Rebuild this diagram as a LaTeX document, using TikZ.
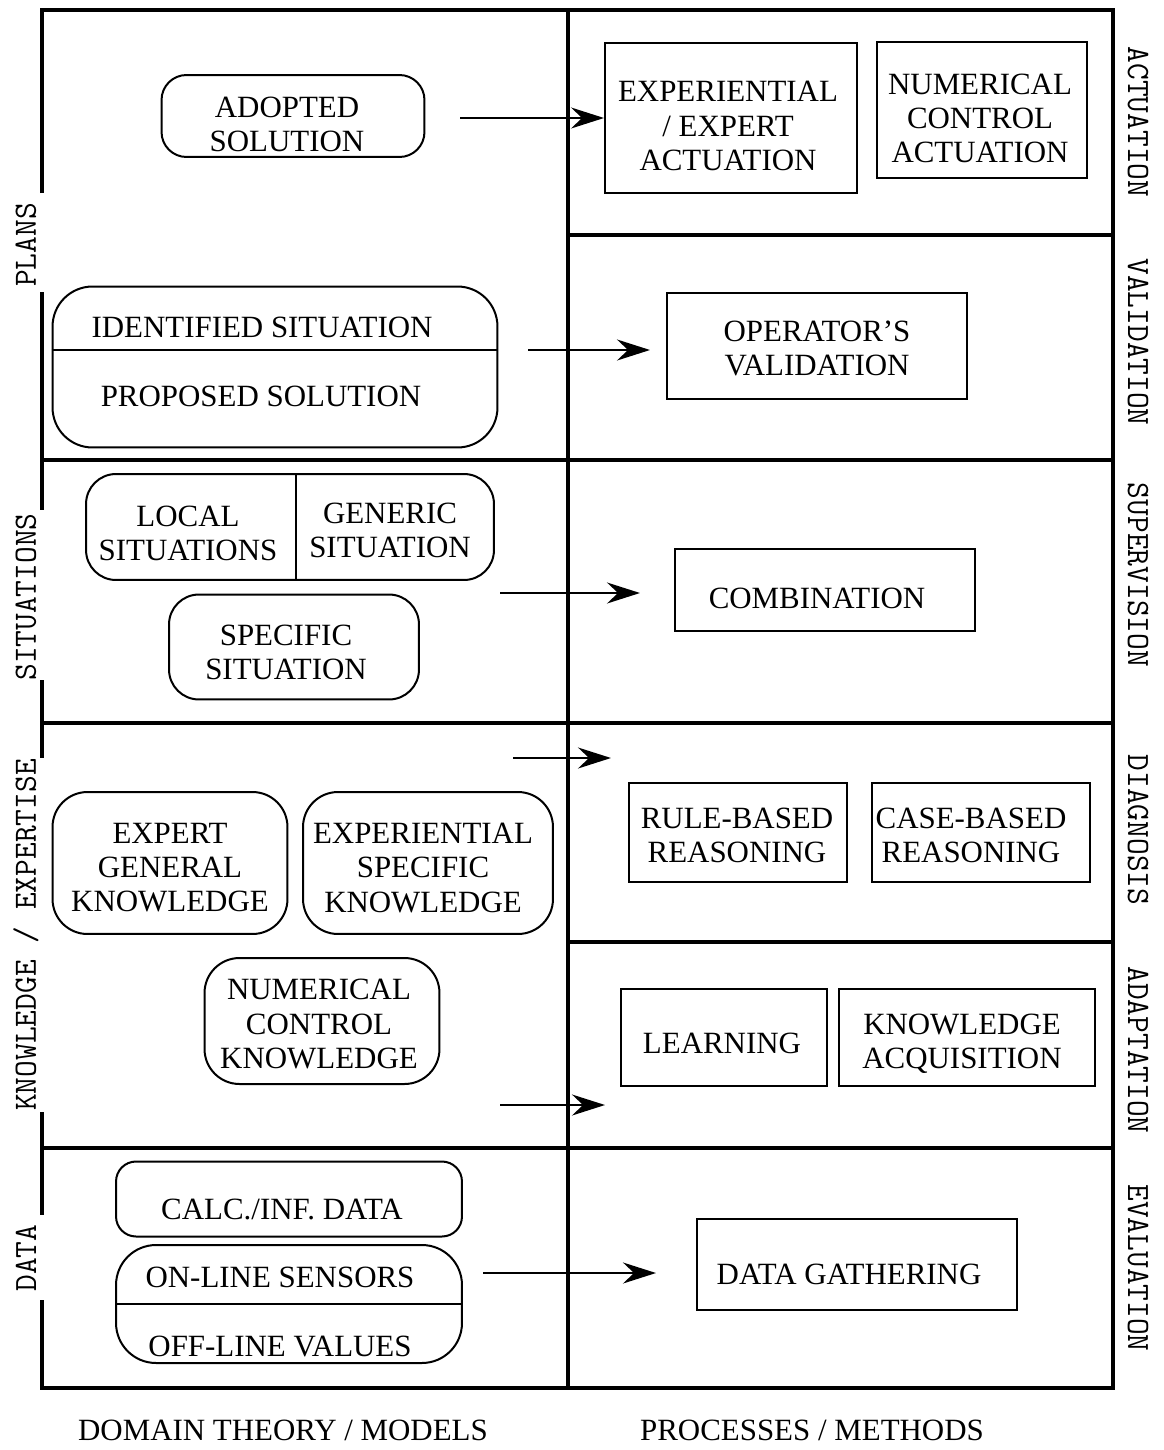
\documentclass[tikz,border=0pt]{standalone}
\usepackage{fontspec}
\setmainfont{Liberation Serif}
\usetikzlibrary{arrows.meta,positioning}

\begin{document}
\begin{tikzpicture}[
    x=0.02cm, y=-0.02cm,
    txt/.style={font=\fontsize{17.6}{19.4}\selectfont, align=center, inner sep=0pt},
    rbox/.style={draw, rounded corners=0.5cm, line width=0.04cm, inner sep=0pt},
    sbox/.style={draw, line width=0.04cm, inner sep=0pt},
    frame/.style={line width=0.09cm},
    divline/.style={line width=0.04cm},
    side/.style={font=\ttfamily\fontsize{18.5}{18.5}\selectfont, inner sep=0pt},
    arr/.style={-{Stealth[length=0.66cm, width=0.42cm, inset=0.22cm]}, line width=0.04cm},
  ]
    \useasboundingbox (0,0) rectangle (1163,1450);

    % Grid
    \draw[frame] (42,193) -- (42,10) -- (1113,10) -- (1113,1388) -- (42,1388) -- (42,1300);
    \draw[frame] (42,292) -- (42,510);
    \draw[frame] (42,680) -- (42,758);
    \draw[frame] (42,1112) -- (42,1215);
    \draw[frame] (568,10) -- (568,1388);
    \draw[frame] (568,235) -- (1113,235);
    \draw[frame] (42,460) -- (1113,460);
    \draw[frame] (42,723) -- (1113,723);
    \draw[frame] (568,942) -- (1113,942);
    \draw[frame] (42,1148) -- (1113,1148);

    % Side labels
    \node[side, rotate=90] (plans) at (26,245) {PLANS};
    \node[side, rotate=90] (situ) at (26,597) {SITUATIONS};
    \node[side, rotate=90] (know) at (26,935) {KNOWLEDGE / EXPERTISE};
    \node[side, rotate=90] (data) at (26,1258) {DATA};
    \node[side, rotate=-90] (actu) at (1138,122) {ACTUATION};
    \node[side, rotate=-90] (vali) at (1138,342) {VALIDATION};
    \node[side, rotate=-90] (supe) at (1138,575) {SUPERVISION};
    \node[side, rotate=-90] (diag) at (1138,830) {DIAGNOSIS};
    \node[side, rotate=-90] (adap) at (1138,1050) {ADAPTATION};
    \node[side, rotate=-90] (eval) at (1138,1268) {EVALUATION};
    \node[txt] (domain) at (283,1430) {DOMAIN THEORY / MODELS};
    \node[txt] (proc) at (812,1430) {PROCESSES / METHODS};

    % Domain theory / models
    \node[rbox, minimum width=5.26cm, minimum height=1.64cm] (adopted) at (293,116) {};
    \node[txt] (adoptedtxt) at (287,124) {ADOPTED\\SOLUTION};

    \node[rbox, rounded corners=0.8cm, minimum width=8.9cm, minimum height=3.22cm] (idsit) at (275,367) {};
    \coordinate (idsplit) at (275,350);
    \draw[divline] (idsit.west |- idsplit) -- (idsit.east |- idsplit);
    \node[txt] (idtxt) at (262,327) {IDENTIFIED SITUATION};
    \node[txt] (proptxt) at (261,396) {PROPOSED SOLUTION};

    \node[rbox, rounded corners=0.6cm, minimum width=8.16cm, minimum height=2.12cm] (sitbox) at (290,527) {};
    \coordinate (sitsplit) at (296,527);
    \draw[divline] (sitbox.north -| sitsplit) -- (sitbox.south -| sitsplit);
    \node[txt] (loctxt) at (188,533) {LOCAL\\SITUATIONS};
    \node[txt] (gentxt) at (390,530) {GENERIC\\SITUATION};

    \node[rbox, rounded corners=0.6cm, minimum width=5cm, minimum height=2.1cm] (specsit) at (294,647) {};
    \node[txt] (spectxt) at (286,652) {SPECIFIC\\SITUATION};

    \node[rbox, rounded corners=0.7cm, minimum width=4.7cm, minimum height=2.84cm] (expgen) at (170,863) {};
    \node[txt] (expgentxt) at (170,868) {EXPERT\\GENERAL\\KNOWLEDGE};
    \node[rbox, rounded corners=0.7cm, minimum width=5cm, minimum height=2.84cm] (expspec) at (428,863) {};
    \node[txt] (expspectxt) at (423,868) {EXPERIENTIAL\\SPECIFIC\\KNOWLEDGE};
    \node[rbox, rounded corners=0.7cm, minimum width=4.7cm, minimum height=2.52cm] (numknow) at (322,1021) {};
    \node[txt] (numknowtxt) at (319,1024) {NUMERICAL\\CONTROL\\KNOWLEDGE};

    \node[rbox, rounded corners=0.4cm, minimum width=6.92cm, minimum height=1.5cm] (calcdata) at (289,1199) {};
    \node[txt] (calctxt) at (282,1209) {CALC./INF. DATA};
    \node[rbox, rounded corners=0.8cm, minimum width=6.92cm, minimum height=2.36cm] (linebox) at (289,1304) {};
    \draw[divline] (linebox.west) -- (linebox.east);
    \node[txt] (ontxt) at (280,1277) {ON-LINE SENSORS};
    \node[txt] (offtxt) at (280,1346) {OFF-LINE VALUES};

    % Processes / methods
    \node[sbox, minimum width=5.04cm, minimum height=3cm] (expact) at (731,118) {};
    \node[txt] (expacttxt) at (728,126) {EXPERIENTIAL\\/ EXPERT\\ACTUATION};
    \node[sbox, minimum width=4.22cm, minimum height=2.72cm] (ncact) at (982,110) {};
    \node[txt] (ncacttxt) at (980,118) {NUMERICAL\\CONTROL\\ACTUATION};
    \node[sbox, minimum width=6.02cm, minimum height=2.12cm] (opval) at (817,346) {};
    \node[txt] (opvaltxt) at (817,348) {OPERATOR'S\\VALIDATION};
    \node[sbox, minimum width=6.02cm, minimum height=1.64cm] (comb) at (825,590) {};
    \node[txt] (combtxt) at (817,598) {COMBINATION};
    \node[sbox, minimum width=4.38cm, minimum height=1.98cm] (rbr) at (738,832) {};
    \node[txt] (rbrtxt) at (737,835) {RULE-BASED\\REASONING};
    \node[sbox, minimum width=4.36cm, minimum height=1.98cm] (cbr) at (981,832) {};
    \node[txt] (cbrtxt) at (971,835) {CASE-BASED\\REASONING};
    \node[sbox, minimum width=4.12cm, minimum height=1.94cm] (learn) at (724,1037) {};
    \node[txt] (learntxt) at (722,1043) {LEARNING};
    \node[sbox, minimum width=5.14cm, minimum height=1.94cm] (kacq) at (967,1037) {};
    \node[txt] (kacqtxt) at (962,1044) {KNOWLEDGE\\ACQUISITION};
    \node[sbox, minimum width=6.4cm, minimum height=1.82cm] (datag) at (857,1264) {};
    \node[txt] (datagtxt) at (849,1274) {DATA GATHERING};

    % Arrows
    \coordinate (a1s) at (460,118);
    \draw[arr] (a1s) -- (expact);
    \coordinate (a2s) at (528,350);
    \coordinate (a2e) at (650,350);
    \draw[arr] (a2s) -- (a2e);
    \coordinate (a3s) at (500,593);
    \coordinate (a3e) at (640,593);
    \draw[arr] (a3s) -- (a3e);
    \coordinate (a4s) at (513,758);
    \coordinate (a4e) at (611,758);
    \draw[arr] (a4s) -- (a4e);
    \coordinate (a5s) at (500,1105);
    \coordinate (a5e) at (605,1105);
    \draw[arr] (a5s) -- (a5e);
    \coordinate (a6s) at (483,1273);
    \coordinate (a6e) at (656,1273);
    \draw[arr] (a6s) -- (a6e);
  \end{tikzpicture}
\end{document}
